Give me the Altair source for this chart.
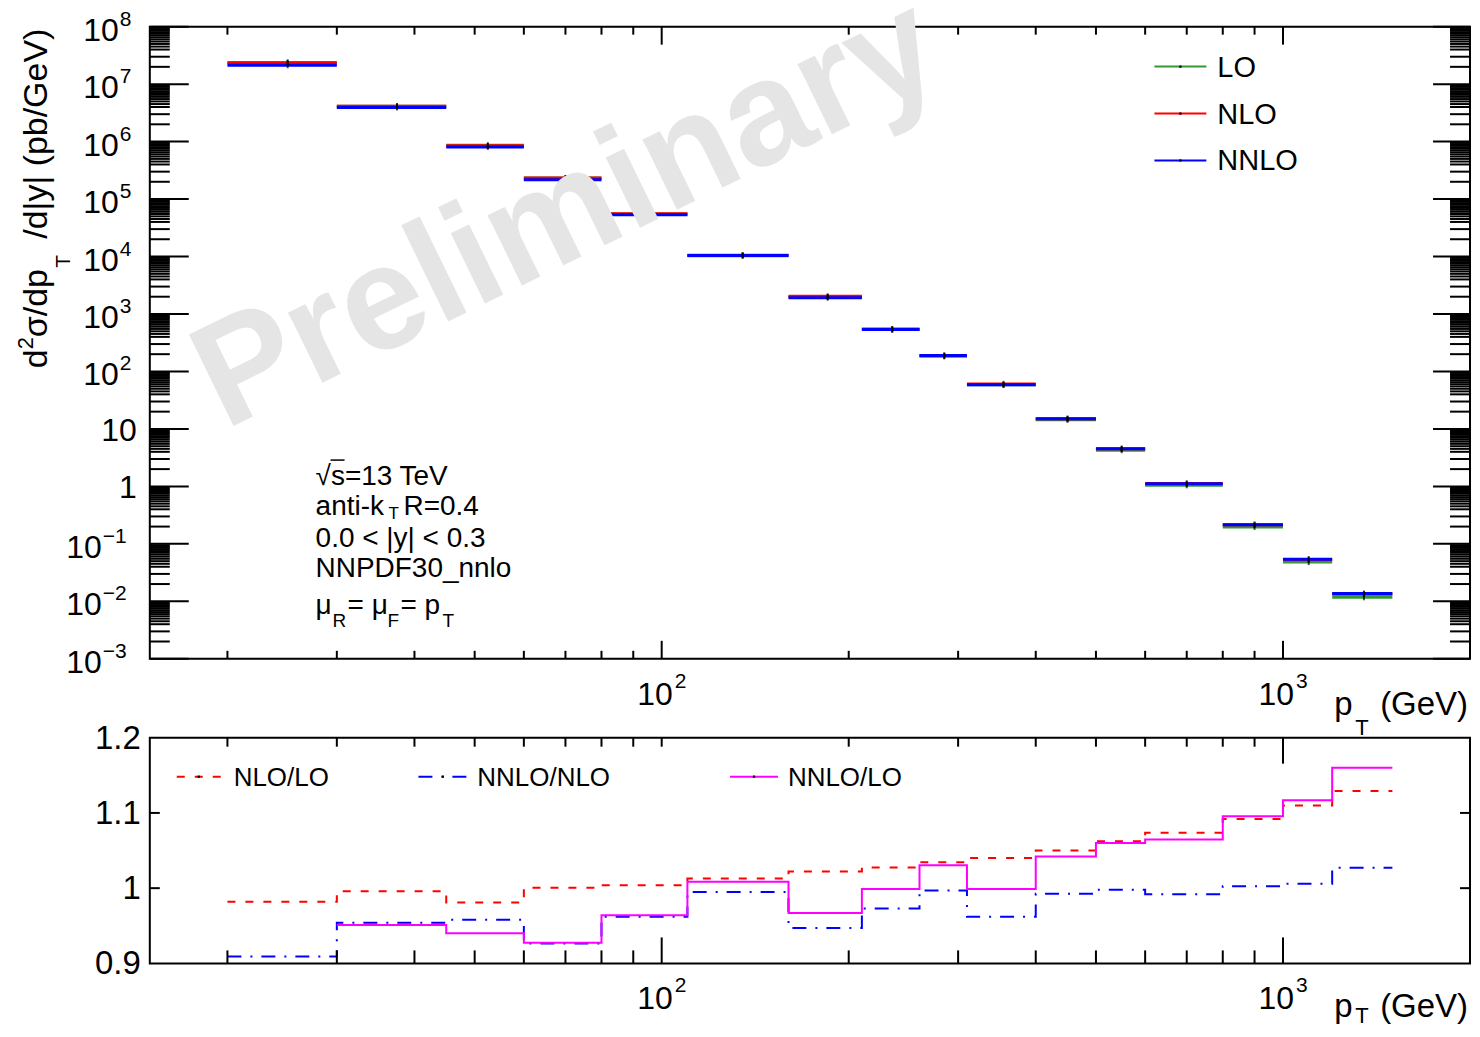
import altair as alt
import pandas as pd

FONT = "Liberation Sans"

# ---------------- data ----------------
bin_lo = [20, 30, 45, 60, 80, 110, 160, 210, 260, 310, 400, 500, 600, 800, 1000, 1200]
bin_hi = [30, 45, 60, 80, 110, 160, 210, 260, 310, 400, 500, 600, 800, 1000, 1200, 1500]

xsec_lo = [2.386e7, 4.136e6, 8.608e5, 2.330e5, 5.508e4, 1.037e4, 1984, 535.1, 183.3,
           58.5, 14.39, 4.263, 1.046, 0.1973, 0.04818, 0.01177]
xsec_nlo = [2.343e7, 4.12e6, 8.445e5, 2.331e5, 5.530e4, 1.050e4, 2027, 549.8, 189.6,
            60.8, 15.11, 4.529, 1.123, 0.2154, 0.05348, 0.01329]
xsec_nnlo = [2.13e7, 3.93e6, 8.09e5, 2.16e5, 5.32e4, 1.045e4, 1920, 535, 189,
             58.5, 15.0, 4.52, 1.114, 0.216, 0.0538, 0.01365]

ratio_nlo_lo = [0.982, 0.996, 0.981, 1.0005, 1.004, 1.013, 1.022, 1.0275, 1.0345,
                1.040, 1.050, 1.0625, 1.0735, 1.092, 1.110, 1.129]
ratio_nnlo_nlo = [0.909, 0.954, 0.958, 0.9266, 0.962, 0.995, 0.947, 0.973, 0.997,
                  0.962, 0.9925, 0.998, 0.992, 1.0027, 1.006, 1.027]
ratio_nnlo_lo = [0.893, 0.951, 0.940, 0.9275, 0.964, 1.0085, 0.967, 0.999, 1.0305,
                 0.999, 1.042, 1.060, 1.0647, 1.0956, 1.117, 1.160]

orders = ["LO", "NLO", "NNLO"]
order_colors = ["#339933", "#ff0000", "#0000ff"]

ratio_names = ["NLO/LO", "NNLO/NLO", "NNLO/LO"]
ratio_colors = ["#ff0000", "#0000ff", "#ff00ff"]

x_major = [100, 1000]
x_minor = [20, 30, 40, 50, 60, 70, 80, 90, 200, 300, 400, 500, 600, 700, 800, 900]
y_decades = [1e-3, 1e-2, 1e-1, 1, 10, 1e2, 1e3, 1e4, 1e5, 1e6, 1e7, 1e8]
y_minor_mult = [2, 3, 4, 4.5, 5, 5.5, 6, 6.5, 7, 7.5, 8, 8.5, 9, 9.5]

ylab_vals = [1e8, 1e7, 1e6, 1e5, 1e4, 1e3, 1e2, 10, 1, 0.1, 0.01, 0.001]
ylab_base = ["10", "10", "10", "10", "10", "10", "10", "10", "1", "10", "10", "10"]
ylab_exp = ["8", "7", "6", "5", "4", "3", "2", "", "", "\u22121", "\u22122", "\u22123"]

xlab_vals = [100, 1000]
xlab_exp = ["2", "3"]

ratio_ticks = [1.0, 1.1]
ratio_lab_vals = [0.9, 1.0, 1.1, 1.2]
ratio_lab_text = ["0.9", "1", "1.1", "1.2"]

# ---------------- helpers ----------------
W, H1, H2 = 1322, 633, 226

xs = alt.Scale(type="log", domain=[15, 2000], nice=False)
ys1 = alt.Scale(type="log", domain=[1e-3, 1e8], nice=False)
ys2 = alt.Scale(type="linear", domain=[0.9, 1.2], nice=False, zero=False)


def one():
    return pd.DataFrame({"a": [0]})


def text_at(t, x, y, size, align="left", baseline="alphabetic", angle=0,
            color="black", weight="normal"):
    return alt.Chart(pd.DataFrame({"t": [t]})).mark_text(
        align=align, baseline=baseline, fontSize=size, font=FONT,
        angle=angle, color=color, fontWeight=weight
    ).encode(x=alt.value(x), y=alt.value(y), text="t:N")


def yticks(vals, scale, length, side):
    x0, x1 = (0, length) if side == "left" else (W - length, W)
    return alt.Chart(pd.DataFrame({"v": vals})).mark_rule(
        strokeWidth=2, color="black"
    ).encode(y=alt.Y("v:Q", scale=scale, axis=None), x=alt.value(x0), x2=alt.value(x1))


def xticks(vals, length, side, H):
    y0, y1 = (0, length) if side == "top" else (H - length, H)
    return alt.Chart(pd.DataFrame({"v": vals})).mark_rule(
        strokeWidth=2, color="black"
    ).encode(x=alt.X("v:Q", scale=xs, axis=None), y=alt.value(y0), y2=alt.value(y1))


def xlabels(H, main_drop, sub_drop):
    base = alt.Chart(pd.DataFrame({"v": xlab_vals, "t": ["10", "10"]})).mark_text(
        align="right", baseline="middle", fontSize=32, font=FONT, dx=11
    ).encode(x=alt.X("v:Q", scale=xs, axis=None), y=alt.value(H + 36), text="t:N")
    exp = alt.Chart(pd.DataFrame({"v": xlab_vals, "t": xlab_exp})).mark_text(
        align="left", baseline="middle", fontSize=21, font=FONT, dx=13
    ).encode(x=alt.X("v:Q", scale=xs, axis=None), y=alt.value(H + 23), text="t:N")
    t1 = text_at("p", W - 136, H + main_drop, 33)
    t2 = text_at("T", W - 115, H + main_drop + sub_drop, 22)
    t3 = text_at("(GeV)", W - 2, H + main_drop, 33, align="right")
    return [base, exp, t1, t2, t3]


# ---------------- top panel ----------------
top_layers = []

# bars
for vals, col in zip([xsec_lo, xsec_nlo, xsec_nnlo], order_colors):
    df = pd.DataFrame({"lo": bin_lo, "hi": bin_hi, "v": vals})
    top_layers.append(alt.Chart(df).mark_rule(strokeWidth=3, color=col).encode(
        x=alt.X("lo:Q", scale=xs, axis=None), x2="hi:Q",
        y=alt.Y("v:Q", scale=ys1, axis=None)))
for vals in [xsec_lo, xsec_nlo, xsec_nnlo]:
    df = pd.DataFrame({"c": [(a + b) / 2 for a, b in zip(bin_lo, bin_hi)], "v": vals})
    top_layers.append(alt.Chart(df).mark_tick(
        orient="vertical", size=6, thickness=2, color="black").encode(
        x=alt.X("c:Q", scale=xs, axis=None), y=alt.Y("v:Q", scale=ys1, axis=None)))

# ticks
y_minor = [m * d for d in y_decades[:-1] for m in y_minor_mult]
top_layers += [
    yticks(y_decades, ys1, 39, "left"), yticks(y_minor, ys1, 20, "left"),
    yticks(y_decades, ys1, 37, "right"), yticks(y_minor, ys1, 20, "right"),
    xticks(x_major, 18, "top", H1), xticks(x_minor, 8, "top", H1),
    xticks(x_major, 18, "bottom", H1), xticks(x_minor, 8, "bottom", H1),
]

# y tick labels
ylab = pd.DataFrame({"v": ylab_vals, "b": ylab_base, "e": ylab_exp})
pos = ylab[(ylab.e != "") & (~ylab.e.str.startswith("\u2212"))]
neg = ylab[ylab.e.str.startswith("\u2212")]
plain = ylab[ylab.e == ""]


def ylab_layer(df, field, x, dy, size, align):
    return alt.Chart(df).mark_text(
        align=align, baseline="middle", fontSize=size, font=FONT, dy=dy
    ).encode(y=alt.Y("v:Q", scale=ys1, axis=None), x=alt.value(x), text=f"{field}:N")


top_layers += [
    ylab_layer(pos, "b", -31, 4, 32, "right"),
    ylab_layer(pos, "e", -30, -7, 21, "left"),
    ylab_layer(neg, "b", -48, 4, 32, "right"),
    ylab_layer(neg, "e", -47, -7, 21, "left"),
    ylab_layer(plain, "b", -13, 2, 32, "right"),
]
top_layers += xlabels(H1, 56, 20)

# y title (rotated, read bottom to top)
top_layers += [
    text_at("d", -103, 342, 34, align="left", angle=270),
    text_at("2", -117, 323, 22, align="left", angle=270),
    text_at("\u03c3/dp", -103, 311, 34, align="left", angle=270),
    text_at("T", -80, 235, 21, align="center", angle=270),
    text_at("/d|y| (pb/GeV)", -103, 2, 34, align="right", angle=270),
]

# info text
top_layers += [
    text_at("\u221as=13 TeV", 166, 459, 28),
    alt.Chart(one()).mark_rule(strokeWidth=1.5, color="black").encode(
        x=alt.value(181), x2=alt.value(195), y=alt.value(434)),
    text_at("anti-k", 166, 489, 28),
    text_at("T", 239, 493, 17),
    text_at("R=0.4", 254, 489, 28),
    text_at("0.0 < |y| < 0.3", 166, 521, 28),
    text_at("NNPDF30_nnlo", 166, 551, 28),
    text_at("\u03bc", 166, 588, 28),
    text_at("R", 183, 601, 19),
    text_at("= \u03bc", 198, 588, 28),
    text_at("F", 238, 601, 19),
    text_at("= p", 251, 588, 28),
    text_at("T", 293, 601, 19),
]

# legend
for i, (name, col) in enumerate(zip(orders, order_colors)):
    ly = [40, 87, 134][i]
    top_layers.append(alt.Chart(one()).mark_rule(color=col, strokeWidth=2).encode(
        x=alt.value(1006), x2=alt.value(1058), y=alt.value(ly)))
    top_layers.append(alt.Chart(one()).mark_square(size=5, color="black", opacity=1).encode(
        x=alt.value(1032), y=alt.value(ly)))
    top_layers.append(text_at(name, 1069, ly + 1, 29, baseline="middle"))

# watermark
top_layers.append(text_at("Preliminary", 418, 188, 148, align="center",
                          baseline="middle", angle=334, color="#e5e5e5", weight="bold"))

# bounds anchor (keeps the left page offset fixed)
top_layers.append(alt.Chart(one()).mark_rule(opacity=0).encode(
    x=alt.value(-141), x2=alt.value(-140), y=alt.value(-18), y2=alt.value(-17)))

top = alt.layer(*top_layers).properties(width=W, height=H1)

# ---------------- ratio panel ----------------
bot_layers = []
dashes = [[8, 10], [14, 9, 2, 9], None]


def step_df(vals):
    xv, rv = [], []
    for lo, r in zip(bin_lo, vals):
        if r >= 0.9:
            xv.append(lo)
            rv.append(r)
    xv.append(bin_hi[-1])
    rv.append(vals[-1])
    return pd.DataFrame({"x": xv, "r": rv})


for vals, col, dash in zip([ratio_nlo_lo, ratio_nnlo_nlo, ratio_nnlo_lo], ratio_colors, dashes):
    kw = dict(interpolate="step-after", strokeWidth=2, color=col)
    if dash:
        kw["strokeDash"] = dash
    bot_layers.append(alt.Chart(step_df(vals)).mark_line(**kw).encode(
        x=alt.X("x:Q", scale=xs, axis=None), y=alt.Y("r:Q", scale=ys2, axis=None)))

bot_layers += [
    yticks(ratio_ticks, ys2, 10, "left"), yticks(ratio_ticks, ys2, 10, "right"),
    xticks([1000], 26, "top", H2), xticks(x_minor + [100], 9, "top", H2),
    xticks(x_major, 26, "bottom", H2), xticks(x_minor, 13, "bottom", H2),
]
bot_layers.append(alt.Chart(pd.DataFrame({"v": ratio_lab_vals, "t": ratio_lab_text})).mark_text(
    align="right", baseline="middle", fontSize=33, font=FONT, dy=1
).encode(y=alt.Y("v:Q", scale=ys2, axis=None), x=alt.value(-9), text="t:N"))
bot_layers += xlabels(H2, 54, 6)

leg_x = [(27, 71, 84), (269, 318, 328), (581, 629, 639)]
for (x0, x1, xl), name, col, dash in zip(leg_x, ratio_names, ratio_colors, dashes):
    kw = dict(color=col, strokeWidth=2)
    if dash:
        kw["strokeDash"] = dash
    bot_layers.append(alt.Chart(one()).mark_rule(**kw).encode(
        x=alt.value(x0), x2=alt.value(x1), y=alt.value(39)))
    bot_layers.append(alt.Chart(one()).mark_square(size=5, color="black", opacity=1).encode(
        x=alt.value((x0 + x1) / 2), y=alt.value(39)))
    bot_layers.append(text_at(name, xl, 40, 26, baseline="middle"))

bottom = alt.layer(*bot_layers).properties(width=W, height=H2)

chart = alt.vconcat(
    top, bottom, spacing=79, bounds="flush",
    padding={"left": 0, "top": -39, "right": 0, "bottom": -2}
).configure_view(stroke="black", strokeWidth=2).properties(background="white")

chart.save("out.html", embed_options={"renderer": "svg", "actions": False})
